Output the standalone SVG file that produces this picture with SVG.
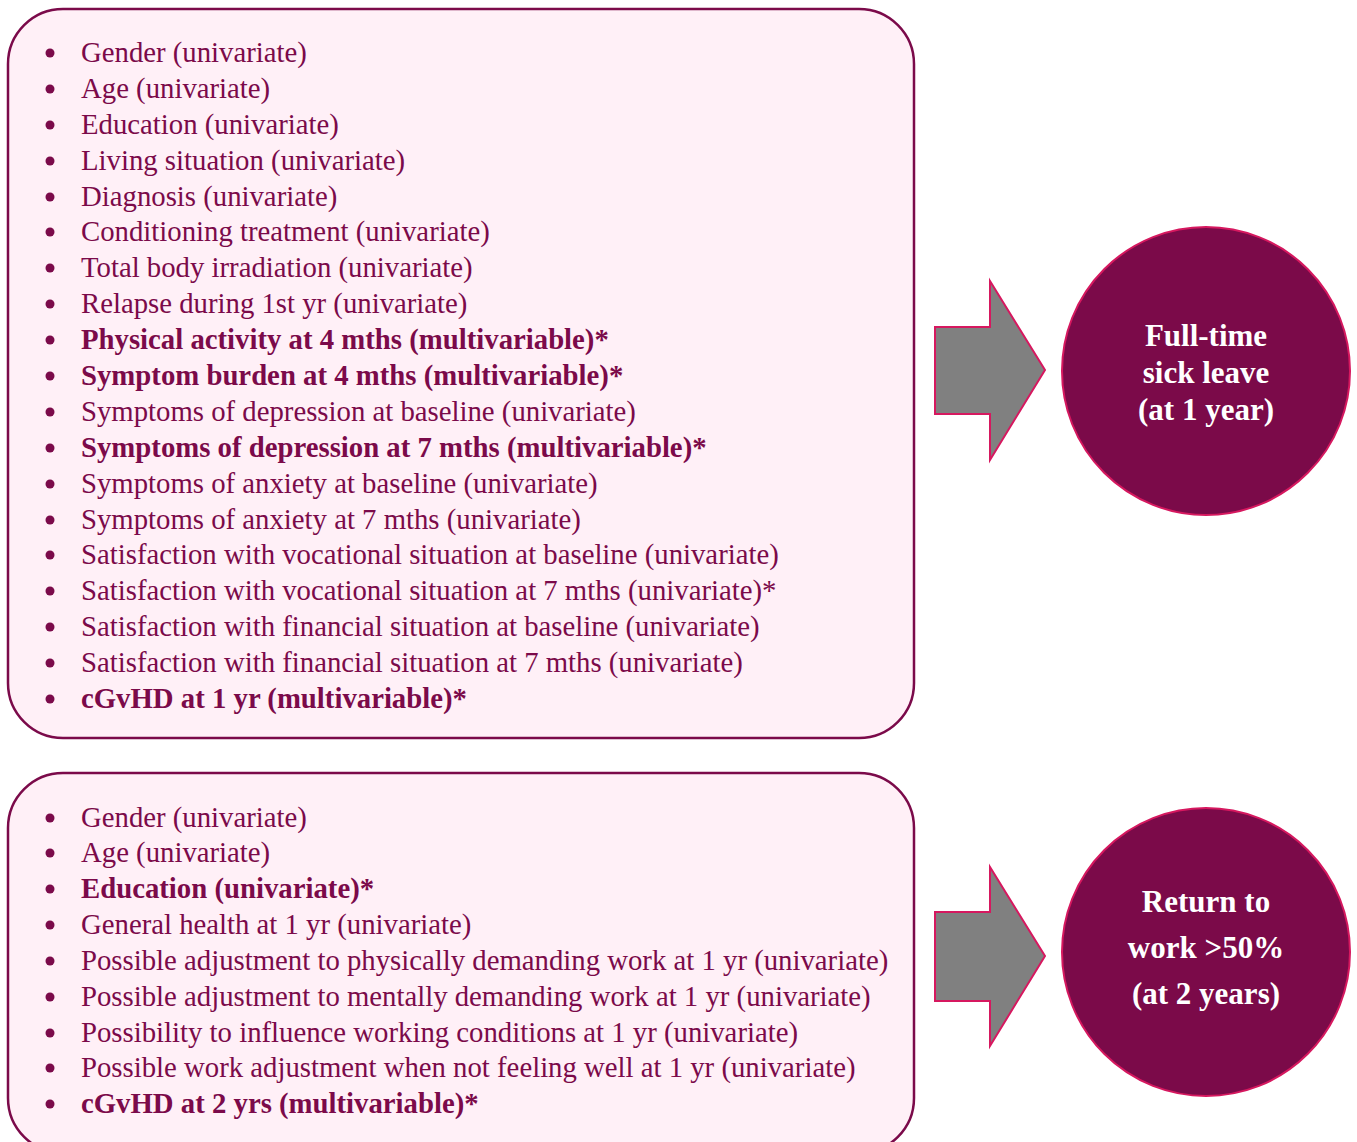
<svg xmlns="http://www.w3.org/2000/svg" width="1357" height="1142" viewBox="0 0 1357 1142">
<style>
.box{fill:#FFF0F7;stroke:#7B0A4A;stroke-width:2.5}
.t{font-family:"Liberation Serif","Times New Roman",serif;font-size:28.75px;fill:#7B0A4A}
.b{font-weight:bold}
.bul{fill:#7B0A4A}
.arr{fill:#808080;stroke:#D6185F;stroke-width:2}
.circ{fill:#7B0A49;stroke:#D6185F;stroke-width:2}
.ct{font-family:"Liberation Serif","Times New Roman",serif;font-size:31px;font-weight:bold;fill:#FFFFFF;text-anchor:middle}
</style>
<g id="box1">
<rect class="box" x="8" y="9" width="906" height="729" rx="55" ry="55"/>
<g class="t">
<text x="81" y="62">Gender (univariate)</text>
<text x="81" y="98">Age (univariate)</text>
<text x="81" y="134">Education (univariate)</text>
<text x="81" y="170">Living situation (univariate)</text>
<text x="81" y="206">Diagnosis (univariate)</text>
<text x="81" y="241">Conditioning treatment (univariate)</text>
<text x="81" y="277">Total body irradiation (univariate)</text>
<text x="81" y="313">Relapse during 1st yr (univariate)</text>
<text x="81" y="349" class="b">Physical activity at 4 mths (multivariable)*</text>
<text x="81" y="385" class="b">Symptom burden at 4 mths (multivariable)*</text>
<text x="81" y="421">Symptoms of depression at baseline (univariate)</text>
<text x="81" y="457" class="b">Symptoms of depression at 7 mths (multivariable)*</text>
<text x="81" y="493">Symptoms of anxiety at baseline (univariate)</text>
<text x="81" y="529">Symptoms of anxiety at 7 mths (univariate)</text>
<text x="81" y="564">Satisfaction with vocational situation at baseline (univariate)</text>
<text x="81" y="600">Satisfaction with vocational situation at 7 mths (univariate)*</text>
<text x="81" y="636">Satisfaction with financial situation at baseline (univariate)</text>
<text x="81" y="672">Satisfaction with financial situation at 7 mths (univariate)</text>
<text x="81" y="708" class="b">cGvHD at 1 yr (multivariable)*</text>
</g>
<g class="bul">
<circle cx="50" cy="53" r="4.5"/><circle cx="50" cy="89" r="4.5"/><circle cx="50" cy="125" r="4.5"/><circle cx="50" cy="161" r="4.5"/><circle cx="50" cy="197" r="4.5"/><circle cx="50" cy="232" r="4.5"/><circle cx="50" cy="268" r="4.5"/><circle cx="50" cy="304" r="4.5"/><circle cx="50" cy="340" r="4.5"/><circle cx="50" cy="376" r="4.5"/><circle cx="50" cy="412" r="4.5"/><circle cx="50" cy="448" r="4.5"/><circle cx="50" cy="484" r="4.5"/><circle cx="50" cy="520" r="4.5"/><circle cx="50" cy="555" r="4.5"/><circle cx="50" cy="591" r="4.5"/><circle cx="50" cy="627" r="4.5"/><circle cx="50" cy="663" r="4.5"/><circle cx="50" cy="699" r="4.5"/>
</g>
</g>
<g id="box2">
<rect class="box" x="8" y="773" width="906" height="380" rx="55" ry="55"/>
<g class="t">
<text x="81" y="827">Gender (univariate)</text>
<text x="81" y="862">Age (univariate)</text>
<text x="81" y="898" class="b">Education (univariate)*</text>
<text x="81" y="934">General health at 1 yr (univariate)</text>
<text x="81" y="970">Possible adjustment to physically demanding work at 1 yr (univariate)</text>
<text x="81" y="1006">Possible adjustment to mentally demanding work at 1 yr (univariate)</text>
<text x="81" y="1042">Possibility to influence working conditions at 1 yr (univariate)</text>
<text x="81" y="1077">Possible work adjustment when not feeling well at 1 yr (univariate)</text>
<text x="81" y="1113" class="b">cGvHD at 2 yrs (multivariable)*</text>
</g>
<g class="bul">
<circle cx="50" cy="818" r="4.5"/><circle cx="50" cy="853" r="4.5"/><circle cx="50" cy="889" r="4.5"/><circle cx="50" cy="925" r="4.5"/><circle cx="50" cy="961" r="4.5"/><circle cx="50" cy="997" r="4.5"/><circle cx="50" cy="1033" r="4.5"/><circle cx="50" cy="1068" r="4.5"/><circle cx="50" cy="1104" r="4.5"/>
</g>
</g>
<g id="connectors">
<polygon class="arr" points="935,327 990,327 990,281 1045,370 990,460 990,414 935,414"/>
<polygon class="arr" points="935,912 990,912 990,867 1045,956 990,1046 990,1001 935,1001"/>
</g>
<g id="outcome1">
<circle class="circ" cx="1206" cy="371" r="144"/>
<text class="ct" x="1206" y="346">Full-time</text>
<text class="ct" x="1206" y="383">sick leave</text>
<text class="ct" x="1206" y="420">(at 1 year)</text>
</g>
<g id="outcome2">
<circle class="circ" cx="1206" cy="952" r="144"/>
<text class="ct" x="1206" y="912">Return to</text>
<text class="ct" x="1206" y="958">work &gt;50%</text>
<text class="ct" x="1206" y="1004">(at 2 years)</text>
</g>
</svg>
